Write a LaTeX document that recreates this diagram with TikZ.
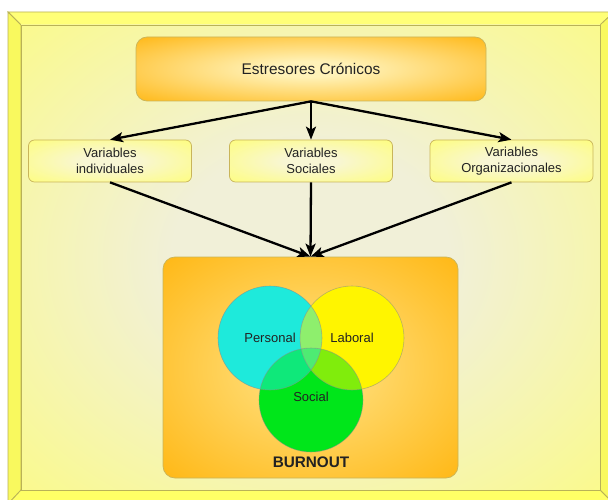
\documentclass[tikz,border=0pt]{standalone}
\usepackage{fontspec}
\setmainfont{Liberation Sans}
\usetikzlibrary{arrows.meta}

% palette
\definecolor{frameyel}{HTML}{FFFF66}
\definecolor{frametop}{HTML}{FFFF78}
\definecolor{frameside}{HTML}{F9F95E}
\definecolor{frameline}{HTML}{B9B257}
\definecolor{panelmid}{HTML}{F1F0D8}
\definecolor{orangeedge}{HTML}{FFB000}
\definecolor{orangemid}{HTML}{FFF2B8}
\definecolor{burnmid}{HTML}{FFD86A}
\definecolor{varedge}{HTML}{FFFF6C}
\definecolor{varmid}{HTML}{F8F6D4}
\definecolor{boxline}{HTML}{C9B55A}
\definecolor{inktext}{HTML}{222222}
\definecolor{cperson}{HTML}{1EEADB}
\definecolor{claboral}{HTML}{FFF500}
\definecolor{csocial}{HTML}{00E61A}

% radial glows used by the panel and the boxes
\pgfdeclareradialshading{panelglow}{\pgfpoint{0bp}{0bp}}{%
  color(0bp)=(panelmid); color(12bp)=(panelmid); color(48bp)=(frameyel); color(75bp)=(frameyel)}
\pgfdeclareradialshading{stressglow}{\pgfpoint{0bp}{0bp}}{%
  color(0bp)=(orangemid); color(6bp)=(orangemid); color(40bp)=(orangeedge); color(75bp)=(orangeedge)}
\pgfdeclareradialshading{burnglow}{\pgfpoint{0bp}{0bp}}{%
  color(0bp)=(burnmid); color(10bp)=(burnmid); color(42bp)=(orangeedge); color(75bp)=(orangeedge)}
\pgfdeclareradialshading{varglow}{\pgfpoint{0bp}{0bp}}{%
  color(0bp)=(varmid); color(8bp)=(varmid); color(42bp)=(varedge); color(75bp)=(varedge)}

\tikzset{
  labeltext/.style={font=\fontsize{13}{15.5}\selectfont, text=inktext, align=center},
  varbox/.style={labeltext, draw=boxline, line width=0.7pt, rounded corners=6pt,
    shading=varglow, minimum width=163pt, minimum height=42pt, inner sep=0pt},
  stressbox/.style={draw=boxline, line width=0.7pt, rounded corners=11pt,
    shading=stressglow, minimum width=350pt, minimum height=64pt, inner sep=0pt,
    font=\fontsize{15.4}{18}\selectfont, text=inktext},
  burnbox/.style={draw=boxline, line width=0.7pt, rounded corners=12pt,
    shading=burnglow, minimum width=295pt, minimum height=221pt, inner sep=0pt},
  flow/.style={line width=2.3pt, draw=black,
    -{Stealth[length=13pt, width=10pt, inset=3pt]}},
  bevel/.style={draw=frameline, line width=0.8pt, line join=miter},
  ring/.style={draw=black!45, draw opacity=0.6, line width=0.6pt},
}

\begin{document}
\begin{tikzpicture}[x=1pt, y=-1pt]
  \useasboundingbox (0,0) rectangle (608,500);
  \clip (0,0) rectangle (608,500);

  % bevelled outer frame
  \fill[white] (0,0) rectangle (608,500);
  \filldraw[bevel, fill=frametop]  (8,12) -- (614,12) -- (600,25) -- (21,25) -- cycle;
  \filldraw[bevel, fill=frameside] (8,12) -- (21,25) -- (21,490) -- (8,504) -- cycle;
  \filldraw[bevel, fill=frameside] (614,12) -- (614,504) -- (600,490) -- (600,25) -- cycle;
  \filldraw[bevel, fill=frameyel]  (8,504) -- (21,490) -- (600,490) -- (614,504) -- cycle;

  % inner panel
  \shade[shading=panelglow] (21,25) rectangle (600,490);
  \draw[bevel] (21,25) rectangle (600,490);

  % boxes
  \node[stressbox] (est) at (311,69) {Estresores Crónicos};
  \node[varbox] (vind) at (110,161) {Variables\\individuales};
  \node[varbox] (vsoc) at (311,161) {Variables\\Sociales};
  \node[varbox] (vorg) at (511.5,161) {Variables\\Organizacionales};
  \node[burnbox] (burn) at (310.5,367.5) {};

  % overlapping circles: solid layer first, then a translucent pass for the overlaps
  \coordinate (cp) at (270,338);
  \coordinate (cl) at (352,338);
  \coordinate (cs) at (311,400);
  \fill[cperson] (cp) circle[radius=52];
  \fill[claboral] (cl) circle[radius=52];
  \fill[csocial] (cs) circle[radius=52];
  \fill[claboral, fill opacity=0.5] (cl) circle[radius=52];
  \fill[cperson, fill opacity=0.5] (cp) circle[radius=52];
  \draw[ring] (cp) circle[radius=52];
  \draw[ring] (cl) circle[radius=52];
  \draw[ring] (cs) circle[radius=52];

  \node[labeltext] (lp) at (270,338) {Personal};
  \node[labeltext] (ll) at (352,338) {Laboral};
  \node[labeltext] (ls) at (311,397) {Social};
  \node[font=\fontsize{15.3}{18}\selectfont\bfseries, text=inktext] (lb) at (311,462) {BURNOUT};

  % connectors
  \draw[flow] (est.south) -- (vind.north);
  \draw[flow] (est.south) -- (vsoc.north);
  \draw[flow] (est.south) -- (vorg.north);
  \draw[flow] (vind.south) -- (burn.north);
  \draw[flow] (vsoc.south) -- (burn.north);
  \draw[flow] (vorg.south) -- (burn.north);
\end{tikzpicture}
\end{document}
